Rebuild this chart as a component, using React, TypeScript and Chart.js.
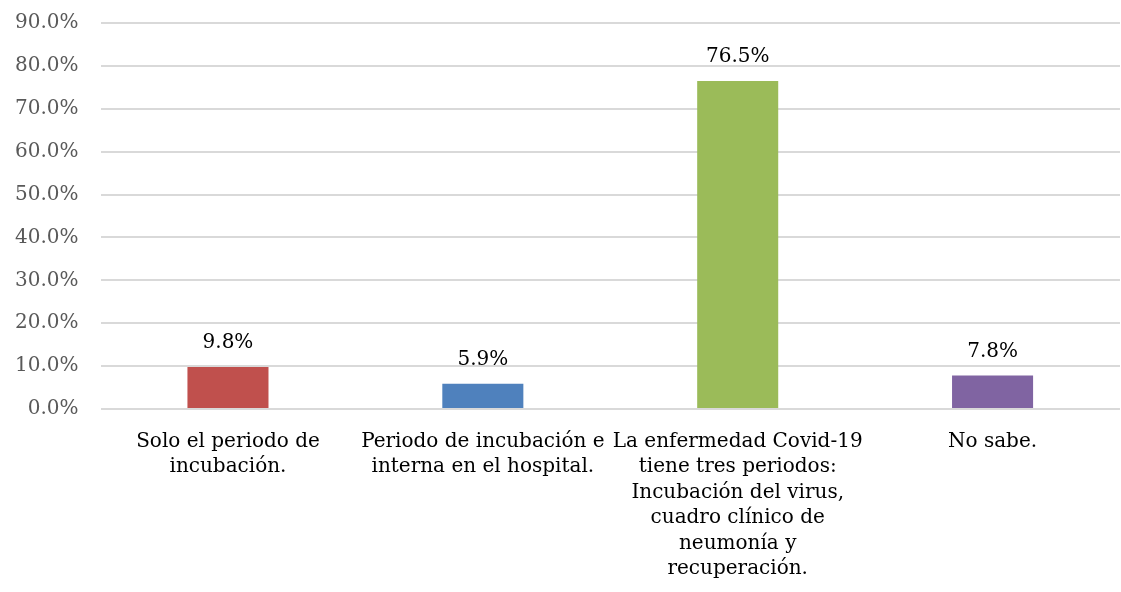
import React, { useEffect, useRef } from "react";
import { Chart, registerables } from "chart.js";

Chart.register(...registerables);

const categories: string[][] = [
  ["Solo el periodo de", "incubación."],
  ["Periodo de incubación e", "interna en el hospital."],
  ["La enfermedad Covid-19", "tiene tres periodos:", "Incubación del virus,", "cuadro clínico de", "neumonía y", "recuperación."],
  ["No sabe."],
];
const values: number[] = [9.8, 5.9, 76.5, 7.8];
const barColors: string[] = ["#C0504D", "#4F81BD", "#9BBB59", "#8064A2"];
const yMax = 90;
const yStep = 10;

const FONT = "'DejaVu Serif', 'Liberation Serif', serif";

const dataLabelPlugin = {
  id: "dataLabels",
  afterDatasetsDraw(chart: any) {
    const ctx = chart.ctx;
    const meta = chart.getDatasetMeta(0);
    ctx.save();
    ctx.font = `20px ${FONT}`;
    ctx.fillStyle = "#000000";
    ctx.textAlign = "center";
    ctx.textBaseline = "bottom";
    meta.data.forEach((bar: any, i: number) => {
      ctx.fillText(values[i].toFixed(1) + "%", bar.x, bar.y - 14);
    });
    ctx.restore();
  },
};

export default function App() {
  const ref = useRef<HTMLCanvasElement>(null);
  useEffect(() => {
    if (!ref.current) return;
    const chart = new Chart(ref.current, {
      type: "bar",
      data: {
        labels: categories,
        datasets: [
          {
            data: values,
            backgroundColor: barColors,
            barPercentage: 0.318,
            categoryPercentage: 1,
          },
        ],
      },
      options: {
        animation: false,
        responsive: true,
        maintainAspectRatio: false,
        layout: { padding: { left: 8, top: 0, right: 1, bottom: 2 } },
        plugins: {
          legend: { display: false },
          tooltip: { enabled: false },
        },
        scales: {
          x: {
            grid: { display: false, drawTicks: false },
            border: { display: false },
            ticks: {
              autoSkip: false,
              maxRotation: 0,
              minRotation: 0,
              padding: 20,
              color: "#000000",
              font: { family: FONT, size: 20, lineHeight: 1.275 },
            },
          },
          y: {
            min: 0,
            max: yMax,
            grid: { color: "#d9d9d9", lineWidth: 2, drawTicks: false },
            border: { display: false },
            ticks: {
              stepSize: yStep,
              padding: 22,
              color: "#595959",
              font: { family: FONT, size: 20 },
              callback: (v: any) => Number(v).toFixed(1) + "%",
            },
          },
        },
      },
      plugins: [dataLabelPlugin],
    });
    return () => chart.destroy();
  }, []);
  return (
    <div style={{ position: "fixed", left: 0, top: 0, width: 1121, height: 592, overflow: "hidden", background: "#fff" }}>
      <div style={{ position: "absolute", left: -15, top: -11, width: 1136, height: 615 }}>
        <canvas ref={ref} />
      </div>
    </div>
  );
}
